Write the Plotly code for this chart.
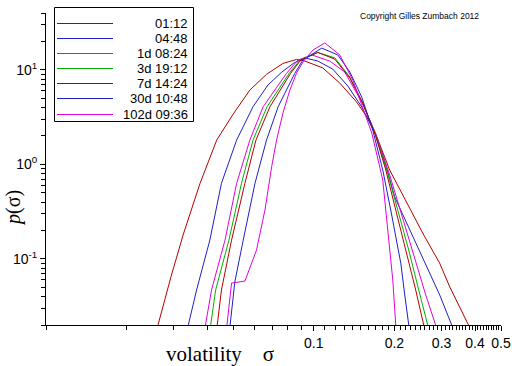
import plotly.graph_objects as go

# ---------------- data ----------------
labels = ["01:12", "04:48", "1d 08:24", "3d 19:12", "7d 14:24", "30d 10:48", "102d 09:36"]
colors = ["#B40000", "#2020C8", "#E000E0", "#00B000", "#B40000", "#2020C8", "#E000E0"]

sigma_0112 = [0.0262, 0.0293, 0.0325, 0.0376, 0.0434, 0.050, 0.0577, 0.0666, 0.0767, 0.0862, 0.0926,
              0.108, 0.125, 0.1445, 0.158, 0.172, 0.192, 0.222, 0.255, 0.295, 0.322, 0.378]
p_0112 = [0.02, 0.065, 0.179, 0.631, 1.81, 3.41, 6.12, 8.98, 11.7, 12.9, 12.4,
          10.5, 7.26, 4.57, 3.17, 1.95, 0.873, 0.39, 0.188, 0.0904, 0.0504, 0.02]

sigma_0448 = [0.0340, 0.0365, 0.0409, 0.0452, 0.0515, 0.0593, 0.0674, 0.0760, 0.0842, 0.0926,
              0.1035, 0.1177, 0.134, 0.151, 0.170, 0.1857, 0.2005, 0.228, 0.2596, 0.2953, 0.3272]
p_0448 = [0.02, 0.0469, 0.158, 0.631, 1.81, 4.08, 6.92, 9.50, 11.8, 13.4,
          12.4, 10.2, 6.75, 4.05, 2.10, 0.985, 0.452, 0.202, 0.0904, 0.0415, 0.02]

sigma_1d = [0.0394, 0.0415, 0.0466, 0.0515, 0.0577, 0.0647, 0.0791, 0.0872, 0.0984,
            0.1147, 0.1305, 0.151, 0.170, 0.192, 0.2130, 0.2361, 0.2618, 0.285]
p_1d = [0.02, 0.0469, 0.158, 0.631, 1.81, 4.08, 9.20, 12.7, 14.4,
        12.4, 9.5, 4.57, 2.15, 0.773, 0.291, 0.110, 0.0415, 0.02]

sigma_3d = [0.0412, 0.0430, 0.0482, 0.0537, 0.0593, 0.0669, 0.0809, 0.0888, 0.1035,
            0.1198, 0.1363, 0.1523, 0.1689, 0.1873, 0.2058, 0.2262, 0.2465, 0.2663]
p_3d = [0.02, 0.0469, 0.158, 0.631, 1.81, 4.08, 9.20, 12.7, 15.3,
        13.4, 8.41, 4.46, 2.15, 0.873, 0.329, 0.124, 0.0469, 0.02]

sigma_7d = [0.0436, 0.0452, 0.0493, 0.0553, 0.0608, 0.0686, 0.0819, 0.0894, 0.1035,
            0.1198, 0.1363, 0.1523, 0.1689, 0.1857, 0.2023, 0.2205, 0.2402, 0.2573]
p_7d = [0.02, 0.0469, 0.158, 0.631, 1.81, 4.08, 9.20, 12.7, 15.3,
        13.0, 8.2, 4.46, 2.15, 0.873, 0.329, 0.124, 0.0469, 0.02]

sigma_30d = [0.0487, 0.0507, 0.0545, 0.0603, 0.0666, 0.0736, 0.0849, 0.0910, 0.1071,
             0.1229, 0.1363, 0.151, 0.166, 0.1809, 0.1954, 0.2112, 0.2186, 0.2262]
p_30d = [0.02, 0.0569, 0.158, 0.631, 1.81, 4.08, 9.20, 12.7, 17.0,
         14.4, 9.50, 5.16, 2.31, 0.873, 0.291, 0.0904, 0.0415, 0.02]

sigma_102d = [0.0474, 0.0493, 0.0553, 0.0611, 0.0657, 0.0696, 0.0726, 0.0767, 0.0814, 0.0862,
              0.0912, 0.0992, 0.1099, 0.125, 0.1398, 0.1523, 0.1646, 0.1809, 0.1889, 0.1972, 0.2023]
p_102d = [0.02, 0.0556, 0.0583, 0.124, 0.329, 0.945, 1.81, 3.50, 6.12, 9.27,
          12.2, 16.2, 19.3, 14.4, 7.82, 3.95, 2.15, 0.684, 0.202, 0.0598, 0.02]

series_sigma = [sigma_0112, sigma_0448, sigma_1d, sigma_3d, sigma_7d, sigma_30d, sigma_102d]
series_p = [p_0112, p_0448, p_1d, p_3d, p_7d, p_30d, p_102d]

x_major = [0.1, 0.2, 0.3, 0.4, 0.5]
x_major_text = ["0.1", "0.2", "0.3", "0.4", "0.5"]
x_minor = [k / 100 for k in range(1, 10)] + [k / 100 for k in range(11, 50) if k % 10 != 0]

y_major = [0.1, 1, 10]
y_major_text = ["10<sup>-1</sup>", "10<sup>0</sup>", "10<sup>1</sup>"]
y_minor = [k / 100 for k in range(2, 10)] + [k / 10 for k in range(2, 10)] + \
          list(range(2, 10)) + [20, 30, 40]

# ---------------- figure ----------------
fig = go.Figure()
for s, p, c, lab in zip(series_sigma, series_p, colors, labels):
    fig.add_trace(go.Scatter(x=s, y=p, mode="lines", name=lab,
                             line=dict(color=c, width=1), showlegend=False))

W, H = 512, 366
L, R, T, B = 46, 11, 13, 41
pw, ph = W - L - R, H - T - B


def px(xp):
    return (xp - L) / pw


def py(yp):
    return (H - B - yp) / ph


shapes = [dict(type="rect", xref="paper", yref="paper",
               x0=px(54.5), x1=px(193.5), y0=py(121.5), y1=py(7.5),
               line=dict(color="black", width=1), fillcolor="white", layer="above")]
annotations = []
rows = [23.5, 38.5, 53.5, 68.5, 83.5, 98.5, 114.5]
for yy, c, lab in zip(rows, colors, labels):
    shapes.append(dict(type="line", xref="paper", yref="paper",
                       x0=px(57), x1=px(113), y0=py(yy), y1=py(yy),
                       line=dict(color=c, width=1), layer="above"))
    annotations.append(dict(xref="paper", yref="paper", x=px(190), y=py(yy),
                            text=lab, showarrow=False, xanchor="right", yanchor="middle",
                            font=dict(family="Liberation Sans", size=13, color="black")))

annotations.append(dict(xref="paper", yref="paper", x=px(419), y=py(16),
                        text="Copyright Gilles Zumbach 2012", showarrow=False,
                        xanchor="center", yanchor="middle",
                        font=dict(family="Liberation Sans", size=8.5, color="black")))
annotations.append(dict(xref="paper", yref="paper", x=px(220), y=py(354),
                        text="volatility&nbsp;&nbsp;&nbsp;&nbsp;σ", showarrow=False,
                        xanchor="center", yanchor="middle",
                        font=dict(family="Liberation Serif", size=21, color="black")))
annotations.append(dict(xref="paper", yref="paper", x=px(13), y=py(208),
                        text="<i>p</i>(σ)", showarrow=False, textangle=-90,
                        xanchor="center", yanchor="middle",
                        font=dict(family="Liberation Serif", size=20, color="black")))

fig.update_layout(
    width=W, height=H,
    margin=dict(l=L, r=R, t=T, b=B, pad=0, autoexpand=False),
    paper_bgcolor="white", plot_bgcolor="white",
    shapes=shapes, annotations=annotations,
    xaxis=dict(type="log", range=[-2, -0.30103], showgrid=False, zeroline=False,
               showline=True, linecolor="black", linewidth=1, automargin=False,
               tickmode="array", tickvals=x_major, ticktext=x_major_text,
               ticks="outside", ticklen=5, tickcolor="black",
               tickfont=dict(family="Liberation Sans", size=14, color="black"),
               minor=dict(tickmode="array", tickvals=x_minor, ticks="outside",
                          ticklen=4, tickcolor="black", showgrid=False)),
    yaxis=dict(type="log", range=[-1.69897, 1.60206], showgrid=False, zeroline=False,
               showline=True, linecolor="black", linewidth=1, automargin=False,
               tickmode="array", tickvals=y_major, ticktext=y_major_text,
               ticks="outside", ticklen=5, tickcolor="black",
               tickfont=dict(family="Liberation Sans", size=14, color="black"),
               minor=dict(tickmode="array", tickvals=y_minor, ticks="outside",
                          ticklen=4, tickcolor="black", showgrid=False)),
)

# remove the default 8px page margin so the figure sits at the window's corner
fig.write_html("out.html",
               config={"displayModeBar": False},
               post_script="document.body.style.margin='0';document.body.style.overflow='hidden';")
